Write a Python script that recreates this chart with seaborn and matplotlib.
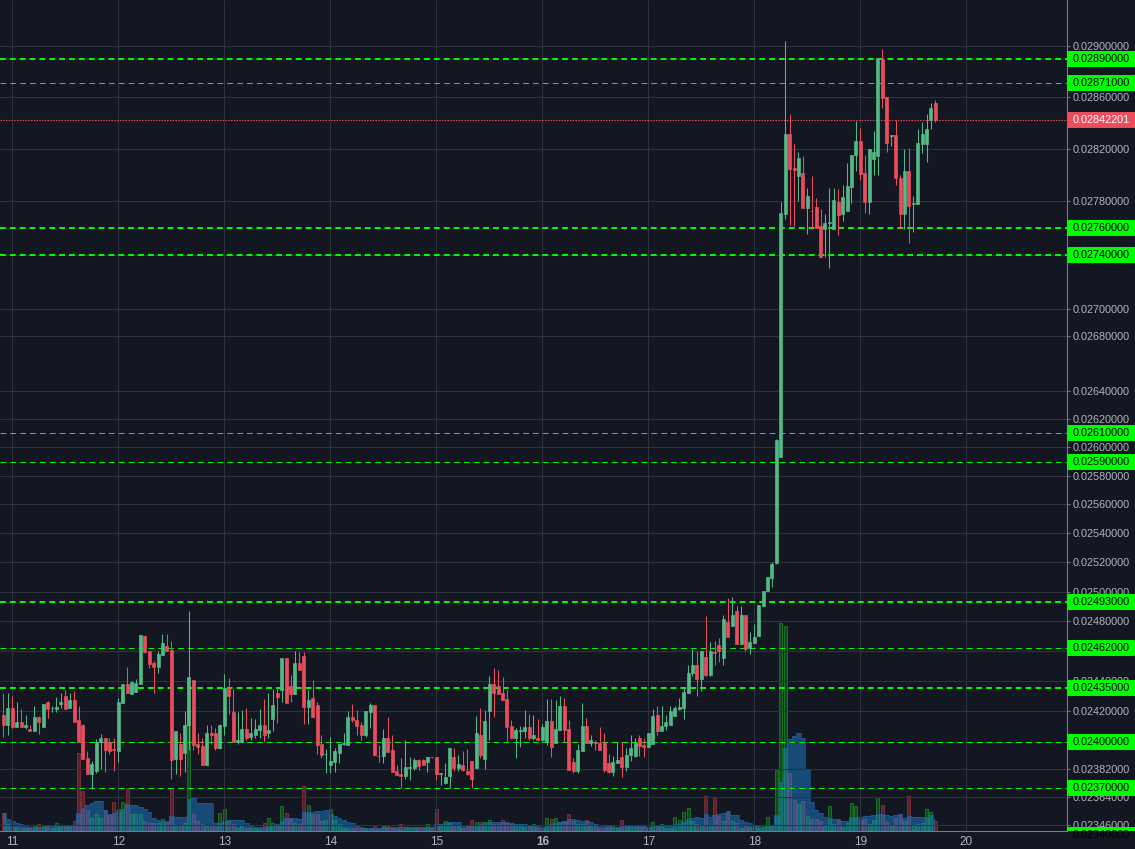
import numpy as np
import pandas as pd
import matplotlib
matplotlib.use("Agg")
import matplotlib.pyplot as plt
import matplotlib.dates as mdates
from matplotlib.ticker import FixedLocator, NullLocator, FuncFormatter, NullFormatter
import seaborn as sns

# hourly candles, first one on the 10th at 22:00
first_candle = "2018-08-10 22:00"

opens = [
    0.024172, 0.024106, 0.024218, 0.024095, 0.024125, 0.024095, 0.024079, 0.024068, 0.024158, 0.024095, 0.024257, 0.024218,
    0.024211, 0.024244, 0.024297, 0.024218, 0.024271, 0.024139, 0.024106, 0.023894, 0.023789, 0.023809, 0.024000, 0.024024,
    0.024000, 0.023949, 0.023941, 0.024251, 0.024376, 0.024310, 0.024323, 0.024376, 0.024700, 0.024601, 0.024521, 0.024495,
    0.024574, 0.024634, 0.024607, 0.023888, 0.023987, 0.023927, 0.024106, 0.024403, 0.023987, 0.023974, 0.023848, 0.024059,
    0.024053, 0.023960, 0.024099, 0.024350, 0.024191, 0.024000, 0.024000, 0.024079, 0.024033, 0.024046, 0.024073, 0.024106,
    0.024053, 0.024145, 0.024317, 0.024337, 0.024554, 0.024363, 0.024310, 0.024521, 0.024568, 0.024224, 0.024284, 0.024238,
    0.023987, 0.023919, 0.023848, 0.023868, 0.023927, 0.023986, 0.023980, 0.024158, 0.024139, 0.024106, 0.024046, 0.024191,
    0.024238, 0.023909, 0.023908, 0.024020, 0.023947, 0.023809, 0.023789, 0.023776, 0.023828, 0.023828, 0.023881, 0.023881,
    0.023868, 0.023901, 0.023901, 0.023791, 0.023729, 0.023776, 0.023901, 0.023828, 0.023848, 0.023809, 0.023875, 0.023828,
    0.024046, 0.023888, 0.024198, 0.024376, 0.024363, 0.024317, 0.024277, 0.024099, 0.024020, 0.024072, 0.024066, 0.024092,
    0.024020, 0.024026, 0.024007, 0.024000, 0.024132, 0.023993, 0.024073, 0.024231, 0.024079, 0.023868, 0.023809, 0.023941,
    0.024099, 0.023993, 0.024000, 0.023993, 0.023993, 0.023861, 0.023802, 0.023861, 0.023901, 0.023835, 0.023914, 0.023908,
    0.024026, 0.023980, 0.023967, 0.023987, 0.024172, 0.024066, 0.024099, 0.024106, 0.024165, 0.024211, 0.024218, 0.024317,
    0.024449, 0.024508, 0.024409, 0.024561, 0.024436, 0.024594, 0.024640, 0.024554, 0.024792, 0.024766, 0.024865, 0.024647,
    0.024838, 0.024620, 0.024653, 0.024699, 0.024901, 0.025003, 0.025091, 0.025193, 0.025933, 0.027707, 0.028311, 0.028056,
    0.027994, 0.028018, 0.027748, 0.027730, 0.027755, 0.027617, 0.027593, 0.027635, 0.027593, 0.027794, 0.027701, 0.027725,
    0.027910, 0.028149, 0.028257, 0.028018, 0.027794, 0.028125, 0.028141, 0.028896, 0.028603, 0.028295, 0.028303, 0.027979,
    0.027701, 0.028033, 0.027779, 0.027779, 0.028233, 0.028233, 0.028418, 0.028557,
]
highs = [
    0.024319, 0.024319, 0.024297, 0.024257, 0.024211, 0.024172, 0.024110, 0.024231, 0.024165, 0.024244, 0.024264, 0.024231,
    0.024290, 0.024317, 0.024337, 0.024317, 0.024330, 0.024231, 0.024112, 0.023941, 0.023875, 0.024018, 0.024048, 0.024024,
    0.024024, 0.024024, 0.024284, 0.024376, 0.024495, 0.024396, 0.024409, 0.024706, 0.024706, 0.024601, 0.024535, 0.024601,
    0.024713, 0.024713, 0.024667, 0.024066, 0.024059, 0.024198, 0.024865, 0.024403, 0.024053, 0.024026, 0.024106, 0.024106,
    0.024086, 0.024112, 0.024442, 0.024416, 0.024343, 0.024191, 0.024205, 0.024218, 0.024152, 0.024145, 0.024211, 0.024277,
    0.024317, 0.024343, 0.024343, 0.024554, 0.024554, 0.024436, 0.024601, 0.024594, 0.024594, 0.024337, 0.024403, 0.024257,
    0.024046, 0.023954, 0.024033, 0.023960, 0.023987, 0.024059, 0.024198, 0.024244, 0.024205, 0.024125, 0.024198, 0.024251,
    0.024238, 0.023980, 0.024079, 0.024158, 0.024040, 0.023848, 0.023894, 0.024007, 0.023901, 0.023894, 0.023888, 0.023888,
    0.023901, 0.023901, 0.023901, 0.023795, 0.023861, 0.023960, 0.023960, 0.023914, 0.023941, 0.023954, 0.023875, 0.024165,
    0.024218, 0.024205, 0.024429, 0.024482, 0.024475, 0.024422, 0.024337, 0.024139, 0.024086, 0.024099, 0.024205, 0.024178,
    0.024172, 0.024145, 0.024112, 0.024277, 0.024277, 0.024271, 0.024297, 0.024284, 0.024139, 0.023894, 0.023987, 0.024251,
    0.024152, 0.024040, 0.024013, 0.024092, 0.024053, 0.023921, 0.023908, 0.024000, 0.024000, 0.023960, 0.024046, 0.024026,
    0.024040, 0.024026, 0.024053, 0.024211, 0.024231, 0.024231, 0.024172, 0.024231, 0.024231, 0.024284, 0.024356, 0.024502,
    0.024614, 0.024601, 0.024601, 0.024832, 0.024660, 0.024667, 0.024686, 0.024838, 0.024957, 0.024964, 0.024904, 0.024904,
    0.024838, 0.024726, 0.024779, 0.024908, 0.025003, 0.025098, 0.025199, 0.026057, 0.027797, 0.029043, 0.028465, 0.028233,
    0.028179, 0.028141, 0.027902, 0.027994, 0.027825, 0.027740, 0.027701, 0.027902, 0.027902, 0.027894, 0.027925, 0.028095,
    0.028156, 0.028411, 0.028357, 0.028149, 0.028195, 0.028334, 0.028904, 0.028974, 0.028603, 0.028303, 0.028418, 0.028002,
    0.028195, 0.028203, 0.027840, 0.028349, 0.028403, 0.028465, 0.028557, 0.028573,
]
lows = [
    0.024029, 0.024044, 0.024088, 0.024095, 0.024095, 0.024084, 0.024068, 0.024068, 0.024048, 0.024095, 0.024152, 0.024196,
    0.024194, 0.024218, 0.024211, 0.024218, 0.024125, 0.023998, 0.023888, 0.023789, 0.023694, 0.023798, 0.023820, 0.023802,
    0.023921, 0.023809, 0.023868, 0.024251, 0.024317, 0.024310, 0.024323, 0.024376, 0.024587, 0.024482, 0.024317, 0.024455,
    0.024574, 0.024601, 0.023756, 0.023789, 0.023776, 0.023802, 0.023947, 0.023947, 0.023921, 0.023848, 0.023848, 0.023987,
    0.023947, 0.023954, 0.024040, 0.024178, 0.024000, 0.023987, 0.024000, 0.024013, 0.024013, 0.024026, 0.024026, 0.024000,
    0.024026, 0.024066, 0.024119, 0.024257, 0.024251, 0.024257, 0.024310, 0.024469, 0.024112, 0.024112, 0.024158, 0.023921,
    0.023894, 0.023795, 0.023795, 0.023802, 0.023861, 0.023980, 0.023980, 0.024125, 0.024046, 0.024013, 0.024033, 0.024086,
    0.023908, 0.023868, 0.023861, 0.023934, 0.023802, 0.023782, 0.023696, 0.023756, 0.023749, 0.023815, 0.023815, 0.023848,
    0.023802, 0.023894, 0.023749, 0.023716, 0.023723, 0.023696, 0.023809, 0.023809, 0.023809, 0.023782, 0.023696, 0.023828,
    0.023894, 0.023822, 0.024013, 0.024158, 0.024310, 0.024271, 0.024000, 0.024020, 0.023894, 0.023967, 0.024026, 0.024013,
    0.024013, 0.024007, 0.024000, 0.023980, 0.023901, 0.023993, 0.024073, 0.024000, 0.023815, 0.023795, 0.023795, 0.023941,
    0.023993, 0.023974, 0.023947, 0.023947, 0.023802, 0.023795, 0.023776, 0.023861, 0.023769, 0.023809, 0.023875, 0.023901,
    0.023908, 0.023901, 0.023967, 0.023987, 0.024046, 0.024066, 0.024073, 0.024106, 0.024165, 0.024205, 0.024145, 0.024317,
    0.024429, 0.024297, 0.024330, 0.024429, 0.024429, 0.024508, 0.024528, 0.024508, 0.024693, 0.024766, 0.024647, 0.024647,
    0.024601, 0.024581, 0.024653, 0.024699, 0.024901, 0.025003, 0.025032, 0.025185, 0.025933, 0.027668, 0.027622, 0.027617,
    0.027802, 0.027748, 0.027555, 0.027593, 0.027601, 0.027385, 0.027385, 0.027301, 0.027593, 0.027547, 0.027655, 0.027725,
    0.027786, 0.028033, 0.027964, 0.027709, 0.027701, 0.028002, 0.028002, 0.028511, 0.028172, 0.028218, 0.027925, 0.027593,
    0.027593, 0.027486, 0.027570, 0.027779, 0.028164, 0.028102, 0.028349, 0.028403,
]
closes = [
    0.024106, 0.024218, 0.024095, 0.024125, 0.024095, 0.024106, 0.024068, 0.024158, 0.024125, 0.024244, 0.024211, 0.024219,
    0.024224, 0.024257, 0.024211, 0.024271, 0.024125, 0.023998, 0.023888, 0.023789, 0.023855, 0.024000, 0.024024, 0.023947,
    0.023941, 0.023947, 0.024257, 0.024376, 0.024317, 0.024389, 0.024383, 0.024706, 0.024594, 0.024515, 0.024495, 0.024581,
    0.024653, 0.024601, 0.023881, 0.024066, 0.023888, 0.024106, 0.024422, 0.023980, 0.023967, 0.023848, 0.024059, 0.024046,
    0.023960, 0.024106, 0.024350, 0.024297, 0.024000, 0.024013, 0.024079, 0.024026, 0.024053, 0.024079, 0.024106, 0.024040,
    0.024073, 0.024238, 0.024290, 0.024554, 0.024251, 0.024310, 0.024521, 0.024469, 0.024224, 0.024271, 0.024158, 0.023980,
    0.023914, 0.023921, 0.023875, 0.023941, 0.023987, 0.023988, 0.024158, 0.024139, 0.024099, 0.024046, 0.024198, 0.024238,
    0.023914, 0.023908, 0.024020, 0.023934, 0.023802, 0.023782, 0.023776, 0.023835, 0.023835, 0.023881, 0.023842, 0.023848,
    0.023901, 0.023899, 0.023789, 0.023793, 0.023769, 0.023960, 0.023828, 0.023855, 0.023815, 0.023789, 0.023756, 0.024059,
    0.023914, 0.024132, 0.024376, 0.024317, 0.024310, 0.024271, 0.024092, 0.024020, 0.024073, 0.024074, 0.024092, 0.024020,
    0.024040, 0.024013, 0.024092, 0.024132, 0.023967, 0.024079, 0.024231, 0.024073, 0.023815, 0.023809, 0.023947, 0.024099,
    0.023993, 0.024007, 0.023993, 0.023947, 0.023815, 0.023802, 0.023868, 0.023881, 0.023835, 0.023914, 0.023960, 0.023993,
    0.023974, 0.023967, 0.024053, 0.024165, 0.024066, 0.024099, 0.024125, 0.024198, 0.024218, 0.024224, 0.024323, 0.024455,
    0.024508, 0.024409, 0.024601, 0.024436, 0.024601, 0.024587, 0.024601, 0.024812, 0.024693, 0.024838, 0.024647, 0.024838,
    0.024614, 0.024660, 0.024693, 0.024908, 0.025003, 0.025098, 0.025187, 0.026052, 0.027712, 0.028311, 0.028048, 0.028041,
    0.028133, 0.027748, 0.027840, 0.027725, 0.027601, 0.027385, 0.027640, 0.027647, 0.027809, 0.027694, 0.027833, 0.027917,
    0.028156, 0.028257, 0.028010, 0.027794, 0.028195, 0.028179, 0.028904, 0.028596, 0.028241, 0.028303, 0.027979, 0.027701,
    0.028033, 0.027763, 0.027786, 0.028241, 0.028311, 0.028349, 0.028511, 0.02842201,
]
volumes = [
    18, 7, 4, 4, 3, 3, 4, 5, 7, 5, 4, 3, 8, 4, 5, 4, 10, 78, 40, 21, 13, 17, 13, 20,
    17, 29, 22, 29, 43, 17, 17, 17, 10, 8, 8, 8, 12, 10, 43, 5, 5, 8, 122, 17, 10, 7, 5, 5,
    4, 18, 22, 10, 7, 3, 5, 3, 3, 3, 4, 8, 13, 8, 5, 25, 18, 12, 8, 7, 45, 26, 17, 17,
    10, 11, 22, 11, 7, 3, 3, 3, 3, 3, 3, 3, 5, 3, 5, 6, 3, 2, 7, 4, 3, 3, 4, 3,
    7, 3, 22, 5, 10, 8, 5, 5, 3, 6, 11, 9, 9, 9, 11, 7, 7, 11, 8, 7, 5, 5, 4, 5,
    7, 3, 3, 13, 12, 13, 9, 9, 17, 10, 7, 7, 11, 5, 5, 3, 3, 5, 5, 3, 11, 4, 4, 4,
    4, 4, 3, 9, 4, 7, 3, 3, 14, 11, 19, 23, 10, 7, 6, 35, 6, 34, 15, 10, 20, 10, 8, 3,
    5, 4, 5, 3, 6, 14, 5, 61, 208, 205, 58, 31, 27, 30, 15, 12, 12, 10, 5, 25, 7, 11, 4, 8,
    28, 25, 11, 12, 7, 11, 34, 26, 9, 5, 13, 17, 10, 35, 5, 7, 8, 22, 19, 10,
]

strong_levels = [0.0289, 0.0276, 0.0274, 0.02493, 0.02435]
weak_levels = [0.02871, 0.0261, 0.0259, 0.02462, 0.0240, 0.0237, 0.0234]
last_price = 0.02842201
price_ticks = [0.0290, 0.0286, 0.0282, 0.0278, 0.0274, 0.0270, 0.0268, 0.0264, 0.0262, 0.0260,
               0.0258, 0.0256, 0.0254, 0.0252, 0.0250, 0.0248, 0.0246, 0.0244, 0.0242, 0.0240,
               0.02382, 0.02364, 0.02346]
hidden_tick_labels = [0.0246]   # sits under the 0.02462 tag
day_labels = ["11", "12", "13", "14", "15", "16", "17", "18", "19", "20"]

BG = "#131722"
GRID = "#2e323e"
UP = "#53b987"
DOWN = "#eb4d5c"
LEVEL = "#00ff00"
TEXT = "#b2b5be"
AXIS = "#787b86"

sns.set_theme(style="dark", rc={
    "axes.facecolor": BG, "figure.facecolor": BG, "grid.color": GRID,
    "lines.scale_dashes": False, "axes.axisbelow": True,
})
plt.rcParams["font.family"] = ["Liberation Sans", "DejaVu Sans"]

df = pd.DataFrame({"open": opens, "high": highs, "low": lows, "close": closes, "volume": volumes})
df["time"] = pd.date_range(first_candle, periods=len(df), freq="h")
df["t"] = mdates.date2num(df["time"])
df["up"] = df["close"] >= df["open"]
df["vol_ma"] = df["volume"].rolling(6, min_periods=1).mean()

W, H = 1135, 849
fig = plt.figure(figsize=(W / 100, H / 100), dpi=100)
rect = [0, 18 / H, 1066.7 / W, 831 / H]
ax_vol = fig.add_axes(rect)
ax = fig.add_axes(rect, sharex=ax_vol)
ax_vol.set_zorder(0)
ax.set_zorder(1)
ax.patch.set_visible(False)

px_day = 106.0
day0 = mdates.date2num(pd.Timestamp("2018-08-11"))
ax.set_xlim(day0 - 12.3 / px_day, day0 + (1066.7 - 12.3) / px_day)
bar_w = 3 / px_day

# volume + its 6-period average
vol_face = np.where(df["up"], "#0f4a1b", "#58232d")
vol_edge = np.where(df["up"], "#1a7a2b", "#86303e")
ax_vol.bar(df["t"], df["volume"], width=bar_w, color=vol_face, edgecolor=vol_edge, linewidth=0.6)
ax_vol.fill_between(df["t"], 0, df["vol_ma"], step="mid", color="#1f8ae0", alpha=0.45, lw=0, zorder=3)
sns.lineplot(x=df["t"], y=df["vol_ma"], ax=ax_vol, drawstyle="steps-mid", color="#1d5a92", lw=0.5, zorder=4)
ax_vol.set_ylim(0, df["volume"].max() * 4)
ax_vol.axis("off")

# candles
colors = np.where(df["up"], UP, DOWN)
ax.vlines(df["t"], df["low"], df["high"], colors=colors, lw=0.75, zorder=3)
body_lo = df[["open", "close"]].min(axis=1)
body_hi = df[["open", "close"]].max(axis=1)
ax.bar(df["t"], body_hi - body_lo, bottom=body_lo, width=bar_w, color=colors,
       edgecolor=colors, linewidth=0.5, zorder=4)

for lvl in strong_levels:
    ax.axhline(lvl, color=LEVEL, lw=1.4, dashes=(4.2, 2.9), zorder=2)
for lvl in weak_levels:
    ax.axhline(lvl, color=LEVEL, lw=0.7, dashes=(4.2, 2.9), zorder=2)
ax.axhline(last_price, color=DOWN, lw=0.8, dashes=(1, 1), zorder=2)

ax.set_yscale("log")
ax.set_ylim(0.023423, 0.029365)
ax.yaxis.set_major_locator(FixedLocator(price_ticks))
ax.yaxis.set_minor_locator(NullLocator())
ax.yaxis.set_major_formatter(FuncFormatter(
    lambda v, pos: "" if any(abs(v - h) < 1e-9 for h in hidden_tick_labels) else f"{v:.8f}"))
ax.yaxis.set_minor_formatter(NullFormatter())
ax.yaxis.tick_right()
ax.tick_params(axis="y", length=2.2, width=0.7, color=AXIS, pad=2.2, labelsize=7.8, labelcolor=TEXT)

ax.set_xticks([day0 + i for i in range(len(day_labels))], day_labels)
ax.tick_params(axis="x", length=0, pad=3.5, labelsize=8.5, labelcolor=TEXT)
for lbl in ax.get_xticklabels():
    if lbl.get_text() == "16":
        lbl.set_fontweight("bold")
ax.grid(True, color=GRID, lw=0.75)
ax.set_xlabel("")
ax.set_ylabel("")

for side in ["top", "left"]:
    ax.spines[side].set_visible(False)
for side in ["right", "bottom"]:
    ax.spines[side].set_visible(True)
    ax.spines[side].set_color(AXIS)
    ax.spines[side].set_linewidth(0.8)

# price tags on the scale
ax_lbl = fig.add_axes([1066.7 / W, 18 / H, 1 - 1066.7 / W, 831 / H])
ax_lbl.set_zorder(5)
ax_lbl.set_yscale("log")
ax_lbl.set_ylim(ax.get_ylim())
ax_lbl.set_xlim(0, 1)
ax_lbl.axis("off")


def price_tag(y, face, txt):
    ax_lbl.axhline(y, color=face, lw=11.5, solid_capstyle="butt")
    ax_lbl.text(0.09, y, f"{y:.8f}", color=txt, fontsize=7.8, va="center", ha="left")


for lvl in strong_levels + weak_levels:
    price_tag(lvl, LEVEL, "black")
price_tag(last_price, DOWN, "white")

fig.savefig("out.png", dpi=100, facecolor=BG)
